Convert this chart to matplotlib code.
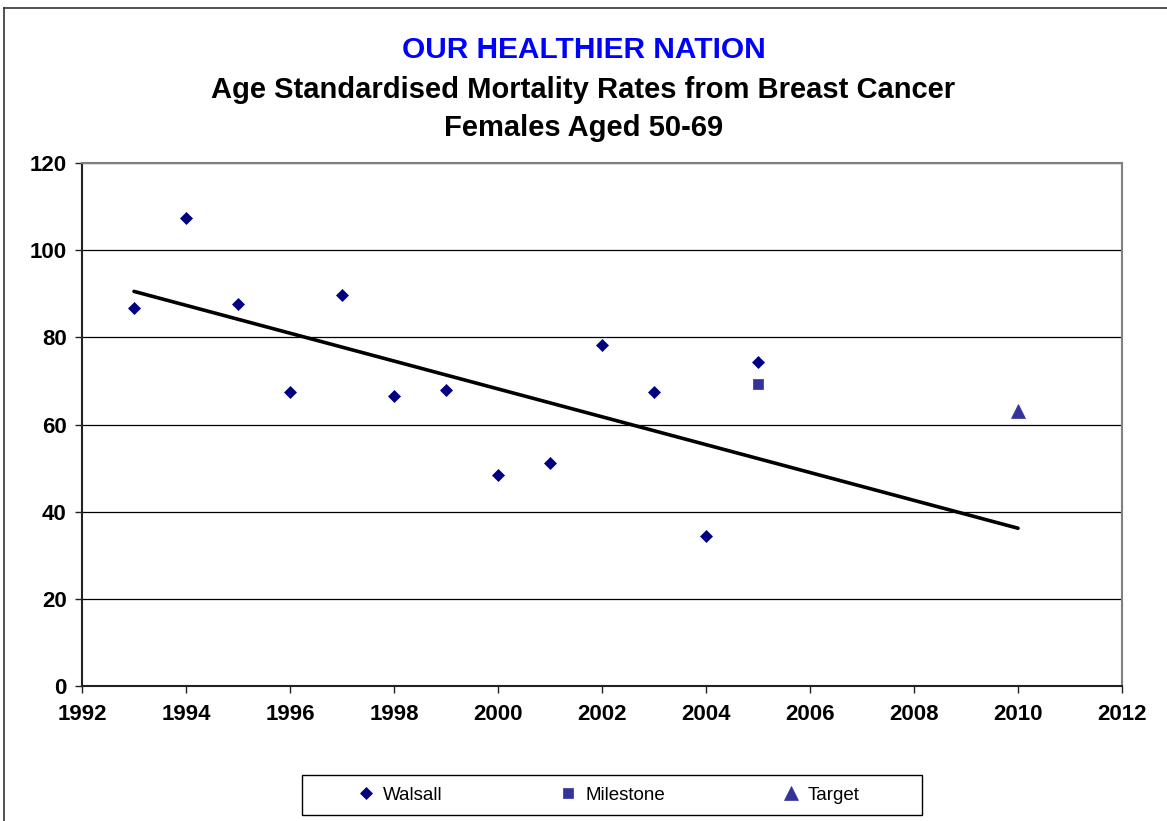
import numpy as np
import matplotlib.pyplot as plt
from matplotlib.patches import Rectangle
from matplotlib.lines import Line2D

plt.rcParams['font.family'] = ['Liberation Sans', 'DejaVu Sans']

# data
years = [1993, 1994, 1995, 1996, 1997, 1998, 1999, 2000, 2001, 2002, 2003, 2004, 2005]
walsall = [86.7, 107.3, 87.7, 67.5, 89.8, 66.5, 67.9, 48.5, 51.2, 78.3, 67.4, 34.5, 74.4]
milestone_year = [2005]
milestone = [69.3]
target_year = [2010]
target = [63.0]

title1 = "OUR HEALTHIER NATION"
title2 = "Age Standardised Mortality Rates from Breast Cancer"
title3 = "Females Aged 50-69"

# linear trend of the Walsall series, carried on to the target year
slope, icpt = np.polyfit(years, walsall, 1)
trend_x = np.array([years[0], target_year[0]])
trend_y = slope * trend_x + icpt

W, H = 1167, 821
fig = plt.figure(figsize=(W / 100, H / 100), dpi=100)
ax = fig.add_axes([82 / W, 1 - 686 / H, 1040 / W, 523 / H])

ax.plot(trend_x, trend_y, color='black', lw=2.6, solid_capstyle='round', zorder=2)
ax.plot(years, walsall, ls='none', marker='D', ms=6.6, color='#000080',
        mec='#000080', mew=0.5, label='Walsall', zorder=3)
ax.plot(milestone_year, milestone, ls='none', marker='s', ms=7.8, color='#333399',
        mec='#333399', mew=0.5, label='Milestone', zorder=3)
ax.plot(target_year, target, ls='none', marker='^', ms=9.5, color='#333399',
        mec='#333399', mew=0.5, label='Target', zorder=3)

ax.set_xlim(1992, 2012)
ax.set_ylim(0, 120)
ax.set_xticks(range(1992, 2013, 2))
ax.set_yticks(range(0, 121, 20))
ax.yaxis.grid(True, color='black', lw=0.9)
ax.set_axisbelow(True)
for s in ['top', 'right']:
    ax.spines[s].set_color('#808080')
    ax.spines[s].set_linewidth(1.5)
for s in ['left', 'bottom']:
    ax.spines[s].set_color('#222222')
    ax.spines[s].set_linewidth(1.5)
ax.tick_params(axis='both', direction='out', length=5, width=1, color='#222222')
ax.tick_params(axis='y', pad=6)
ax.tick_params(axis='x', pad=8)
for lab in ax.get_xticklabels() + ax.get_yticklabels():
    lab.set_fontsize(16)
    lab.set_fontweight('bold')

fig.text(0.5, 1 - 50 / H, title1, ha='center', va='center', fontsize=21.5,
         fontweight='bold', color='#0000FF')
fig.text(0.5, 1 - 90 / H, title2, ha='center', va='center', fontsize=21,
         fontweight='bold', color='black')
fig.text(0.5, 1 - 128 / H, title3, ha='center', va='center', fontsize=21,
         fontweight='bold', color='black')

# legend box
fig.patches.append(Rectangle((302 / W, 1 - 815 / H), 620 / W, 40 / H,
                             transform=fig.transFigure, fill=False,
                             edgecolor='black', lw=1))
fig.legend(loc='center', bbox_to_anchor=(608 / W, 1 - 795 / H), ncol=3,
           frameon=False, fontsize=13.5, handlelength=1.0, handletextpad=0.4,
           columnspacing=6.2)

# outer chart border (left and top)
fig.lines.append(Line2D([4 / W, 4 / W], [0, 1 - 8 / H], transform=fig.transFigure,
                        color='#333333', lw=1.2))
fig.lines.append(Line2D([4 / W, 1], [1 - 8 / H, 1 - 8 / H], transform=fig.transFigure,
                        color='#333333', lw=1.2))

fig.savefig('out.png', dpi=100)
